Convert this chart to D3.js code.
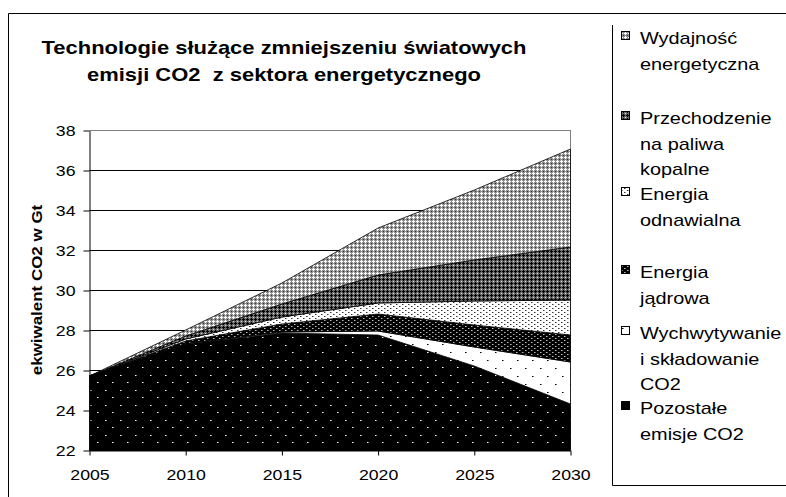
<!DOCTYPE html>
<html>
<head>
<meta charset="utf-8">
<script src="https://cdn.jsdelivr.net/npm/d3@7"></script>
<style>
  body { margin: 0; background: #fff; }
  svg { display: block; font-family: "Liberation Sans", Arial, sans-serif; }
</style>
</head>
<body>
<svg id="chart"></svg>
<script>
const WIDTH = 786, HEIGHT = 497;

// dane (Gt CO2), warstwy od dołu do góry
const years = [2005, 2010, 2015, 2020, 2025, 2030];
const pozostale     = [25.7, 27.3, 27.85, 27.75, 26.2, 24.3];
const wychwytywanie = [0, 0.02, 0.05, 0.2, 0.95, 2.1];
const jadrowa       = [0, 0.13, 0.4, 0.85, 1.1, 1.35];
const odnawialna    = [0, 0.1, 0.35, 0.55, 1.2, 1.75];
const przechodzenie = [0, 0.15, 0.65, 1.4, 2.05, 2.65];
const wydajnosc     = [0, 0.3, 1.05, 2.35, 3.5, 4.9];

const yTicks = [22, 24, 26, 28, 30, 32, 34, 36, 38];

const keys = ["pozostale", "wychwytywanie", "jadrowa", "odnawialna", "przechodzenie", "wydajnosc"];
const values = { pozostale, wychwytywanie, jadrowa, odnawialna, przechodzenie, wydajnosc };

// legenda od góry
const legendKeys = ["wydajnosc", "przechodzenie", "odnawialna", "jadrowa", "wychwytywanie", "pozostale"];
const legendLabels = [
  ["Wydajność", "energetyczna"],
  ["Przechodzenie", "na paliwa", "kopalne"],
  ["Energia", "odnawialna"],
  ["Energia", "jądrowa"],
  ["Wychwytywanie", "i składowanie", "CO2"],
  ["Pozostałe", "emisje CO2"]
];
const legendY = [44, 124, 200, 278, 339, 414];

const titleLines = ["Technologie służące zmniejszeniu światowych", "emisji CO2  z sektora energetycznego"];
const yTitle = "ekwiwalent CO2 w Gt";

const margin = { top: 130, left: 89.5, right: 570.5, bottom: 450 };

const svg = d3.select("svg#chart")
    .attr("width", WIDTH)
    .attr("height", HEIGHT);

// wzory wypełnień
const defs = svg.append("defs");
const makePattern = (id, w, h, bg, pixels) => {
  const p = defs.append("pattern")
      .attr("id", id)
      .attr("patternUnits", "userSpaceOnUse")
      .attr("width", w)
      .attr("height", h);
  p.append("rect").attr("width", w).attr("height", h).attr("fill", bg);
  pixels.forEach(([px, py, c]) => {
    p.append("rect").attr("x", px).attr("y", py).attr("width", 1).attr("height", 1).attr("fill", c);
  });
};

makePattern("p-wydajnosc", 4, 4, "#8e8e8e", [
  [1, 0, "#fff"], [0, 1, "#fff"], [1, 1, "#fff"], [2, 1, "#fff"], [1, 2, "#fff"], [3, 3, "#333"]
]);
makePattern("p-przechodzenie", 4, 4, "#6a6a6a", [
  [3, 2, "#000"], [2, 3, "#000"], [3, 3, "#000"], [0, 3, "#000"], [3, 0, "#000"], [1, 1, "#ddd"]
]);
makePattern("p-odnawialna", 6, 4, "#fff", [[0, 0, "#333"], [3, 2, "#333"], [1, 0, "#999"], [4, 2, "#999"]]);
makePattern("p-jadrowa", 6, 4, "#000", [[0, 0, "#bbb"], [3, 2, "#bbb"], [1, 0, "#666"], [4, 2, "#666"]]);
makePattern("p-wychwytywanie", 15, 16, "#fff", [[0, 0, "#000"], [7, 8, "#000"], [1, 0, "#777"], [8, 8, "#777"]]);
makePattern("p-pozostale", 15, 15, "#000", [[0, 0, "#fff"], [7, 7, "#fff"], [1, 0, "#888"], [8, 7, "#888"]]);

const stretch = (sel, sx) => sel.each(function () {
  const t = d3.select(this);
  const x = +t.attr("x") || 0, y = +t.attr("y") || 0;
  t.attr("x", 0).attr("y", 0).attr("transform", `translate(${x},${y}) scale(${sx},1)`);
});

// obramowanie wykresu i legendy
svg.append("path")
    .attr("d", `M8.5,${HEIGHT} V13.5 H${WIDTH}`)
    .attr("fill", "none")
    .attr("stroke", "#000");

svg.append("path")
    .attr("d", `M612.5,25 V485.5 H${WIDTH}`)
    .attr("fill", "none")
    .attr("stroke", "#000");

const xScale = d3.scaleLinear()
    .domain([2005, 2030])
    .range([margin.left, margin.right]);

const yScale = d3.scaleLinear()
    .domain([22, 38])
    .range([margin.bottom, margin.top])
    .clamp(true);

// siatka
svg.append("g")
    .selectAll("line")
    .data(yTicks)
    .join("line")
    .attr("x1", margin.left)
    .attr("x2", margin.right)
    .attr("y1", (d) => Math.round(yScale(d)) + 0.5)
    .attr("y2", (d) => Math.round(yScale(d)) + 0.5)
    .attr("stroke", (d) => d === 38 ? "#808080" : "#000");

svg.append("line")
    .attr("x1", margin.right).attr("x2", margin.right)
    .attr("y1", margin.top).attr("y2", margin.bottom)
    .attr("stroke", "#808080");

// warstwy
const table = years.map((yr, i) => {
  const row = { year: yr };
  keys.forEach((k) => row[k] = values[k][i]);
  return row;
});

const series = d3.stack().keys(keys)(table);

const area = d3.area()
    .x((d) => xScale(d.data.year))
    .y0((d) => yScale(d[0]))
    .y1((d) => yScale(d[1]));

svg.append("g")
    .selectAll("path")
    .data(series)
    .join("path")
    .attr("d", area)
    .attr("fill", (d) => `url(#p-${d.key})`)
    .attr("stroke", "#000")
    .attr("stroke-width", 0.8)
    .attr("stroke-linejoin", "round");

// osie
const xAxis = svg.append("g")
    .attr("transform", `translate(0, ${margin.bottom + 0.5})`)
    .call(d3.axisBottom(xScale).tickValues(years).tickFormat(d3.format("d")).tickSize(5).tickSizeOuter(0));

const yAxis = svg.append("g")
    .attr("transform", `translate(${margin.left}, 0.5)`)
    .call(d3.axisLeft(yScale).tickValues(yTicks).tickSize(6).tickSizeOuter(0));

[xAxis, yAxis].forEach((a) => {
  a.select(".domain").attr("stroke", "#000");
  a.selectAll(".tick line").attr("stroke", "#000");
  a.selectAll("text")
      .attr("font-family", "Liberation Sans, Arial, sans-serif")
      .attr("font-size", 15)
      .attr("fill", "#000");
});

xAxis.selectAll("text").attr("y", 29.5).attr("dy", 0);
yAxis.selectAll("text").attr("x", -14).attr("dy", "0.34em");
stretch(xAxis.selectAll("text"), 1.18);
stretch(yAxis.selectAll("text"), 1.18);

// tytuł
svg.append("g")
    .selectAll("text")
    .data(titleLines)
    .join("text")
    .attr("x", 284)
    .attr("y", (d, i) => 54 + i * 27)
    .attr("text-anchor", "middle")
    .attr("font-weight", "bold")
    .attr("font-size", 18)
    .style("white-space", "pre")
    .text((d) => d)
    .call((s) => stretch(s, 1.22));

svg.append("text")
    .attr("transform", `translate(42, 290) rotate(-90) scale(1.13,1)`)
    .attr("text-anchor", "middle")
    .attr("font-weight", "bold")
    .attr("font-size", 15)
    .text(yTitle);

// legenda
const legend = svg.append("g");

legendKeys.forEach((k, i) => {
  const y0 = legendY[i];
  legend.append("rect")
      .attr("x", 621.5)
      .attr("y", y0 - 12.5)
      .attr("width", 8)
      .attr("height", 8)
      .attr("fill", `url(#p-${k})`)
      .attr("stroke", "#000");

  legend.append("g")
      .selectAll("text")
      .data(legendLabels[i])
      .join("text")
      .attr("x", 640)
      .attr("y", (d, j) => y0 + j * 25.5)
      .attr("font-size", 17)
      .text((d) => d)
      .call((s) => stretch(s, 1.17));
});
</script>
</body>
</html>
